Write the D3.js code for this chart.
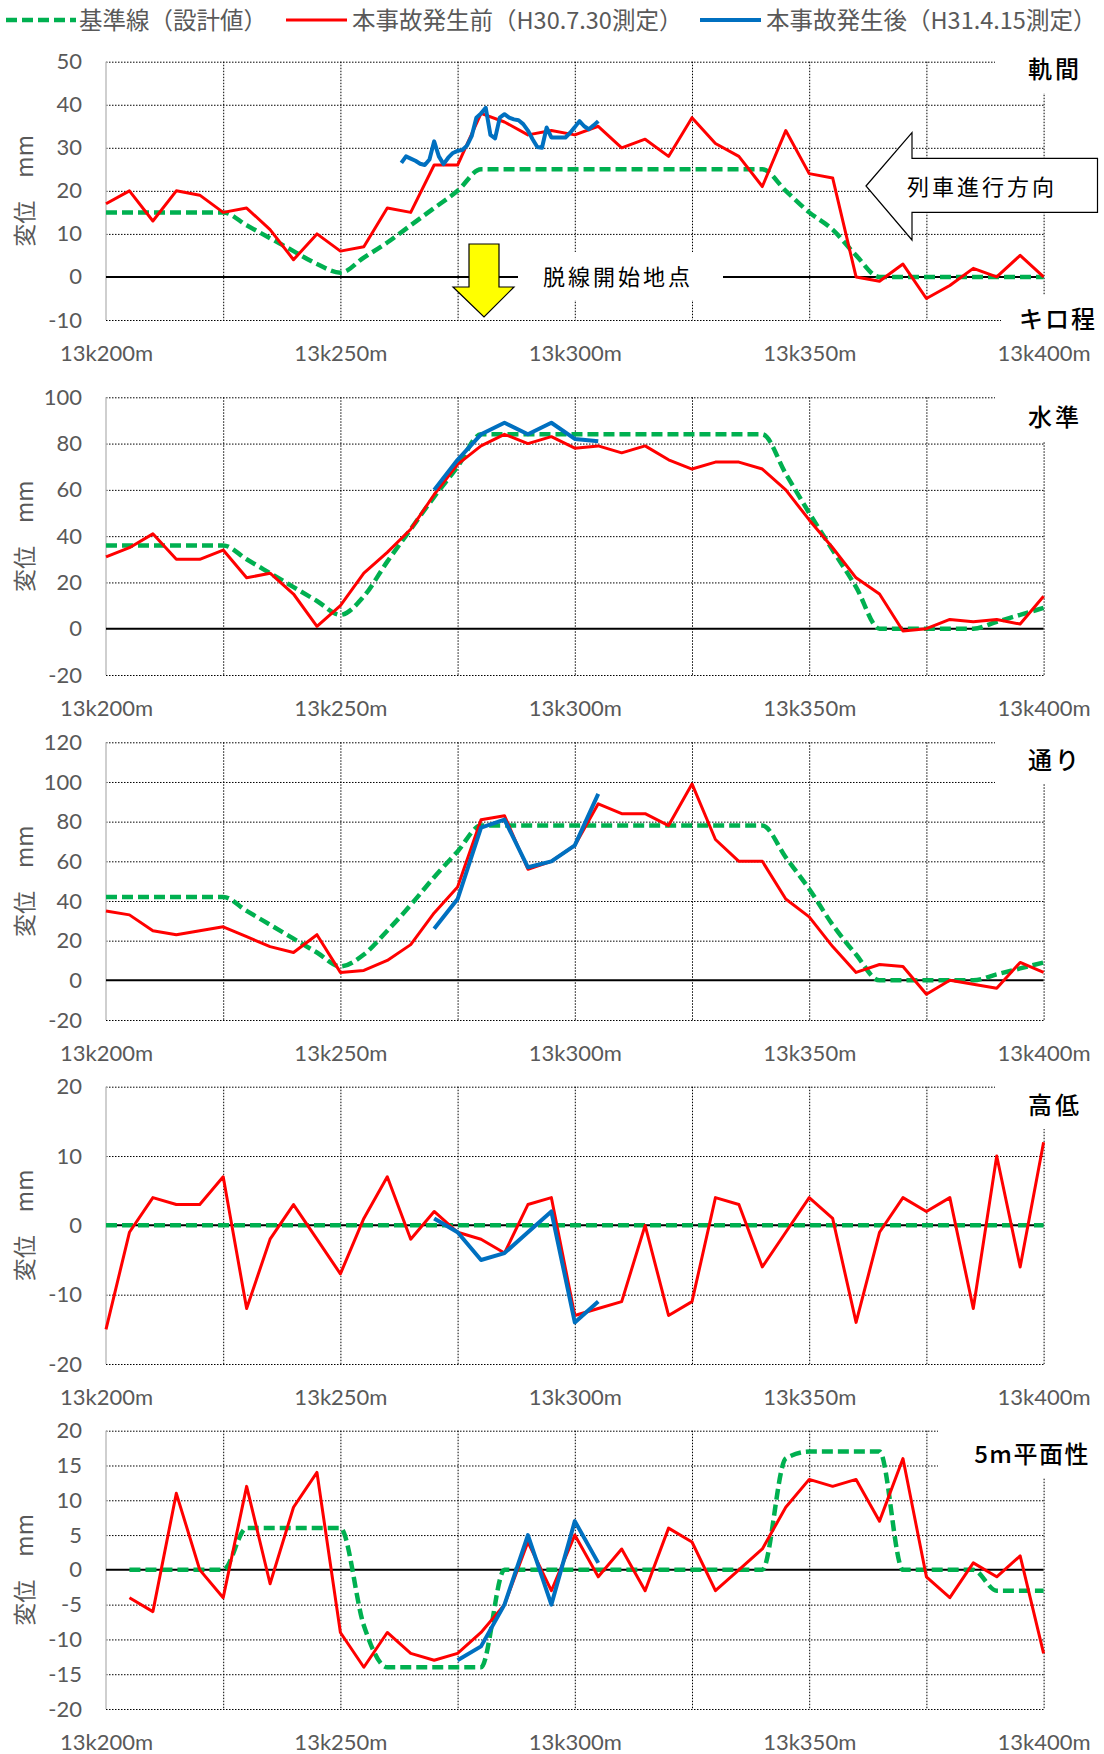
<!DOCTYPE html>
<html>
<head>
<meta charset="utf-8">
<script src="https://cdn.jsdelivr.net/npm/d3@7"></script>
<style>
  body { margin: 0; background: #fff; }
  svg { display: block; }
</style>
</head>
<body>
<svg id="chart" width="1104" height="1754"></svg>
<script>
// キロ程 (13k + m)
const KM = d3.range(200, 401, 5);
const KM_TWIST = d3.range(205, 401, 5);
const KM_AFTER = [270, 275, 280, 285, 290, 295, 300, 305];
const KM_AFTER_GAUGE = d3.range(263, 306);   // 1m pitch
const KM_AFTER_TWIST = [275, 280, 285, 290, 295, 300, 305];
const X_TICKS = [200, 250, 300, 350, 400];
const X_GRID = [225, 250, 275, 300, 325, 350, 375, 400];

const SERIES_NAMES = ['基準線（設計値）', '本事故発生前（H30.7.30測定）', '本事故発生後（H31.4.15測定）'];
const TITLES = ['軌間', '水準', '通り', '高低', '5m平面性'];

// 軌間
const GAUGE_BASE = [15, 15, 15, 15, 15, 15, 12, 9, 6, 3, 1, 4.5, 8, 12, 16, 20,
  25, 25, 25, 25, 25, 25, 25, 25, 25, 25, 25, 25, 25, 20, 15, 11, 5, 0, 0, 0, 0, 0, 0, 0, 0];
const GAUGE_BEFORE = [17, 20, 13, 20, 19, 15, 16, 11, 4, 10, 6, 7, 16, 15, 26, 26,
  38, 36, 33, 34, 33, 35, 30, 32, 28, 37, 31, 28, 21, 34, 24, 23, 0, -1, 3, -5, -2, 2, 0, 5, 0];
const GAUGE_AFTER = [26.5, 28, 27.5, 27, 26.3, 26, 27.3, 31.5, 28, 26.2, 27.7, 28.8, 29.3, 29.5,
  30.5, 32.7, 37, 38, 39.3, 33, 32.2, 37, 37.8, 37, 36.6, 36.4, 35.5, 34, 32, 30.2, 30,
  34.7, 32.4, 32.4, 32.4, 32.4, 33.5, 34.8, 36.2, 35, 34.3, 35.2, 36.2];

// 水準
const CROSS_BASE = [36, 36, 36, 36, 36, 36, 30, 24, 18, 12, 6, 14, 29, 43, 57, 70,
  84, 84, 84, 84, 84, 84, 84, 84, 84, 84, 84, 84, 84, 67, 50, 34, 18, 0, 0, 0, 0, 0, 3, 6, 9];
const CROSS_BEFORE = [31, 35, 41, 30, 30, 34, 22, 24, 15, 1, 10, 24, 33, 43, 58, 71,
  79, 84, 80, 83, 78, 79, 76, 79, 73, 69, 72, 72, 69, 60, 47, 35, 22, 15, -1, 0, 4, 3, 4, 2, 14];
const CROSS_AFTER = [60, 73, 84, 89, 84, 89, 82, 81];

// 通り
const ALIGN_BASE = [42, 42, 42, 42, 42, 42, 35, 28, 21, 14, 7, 13, 25, 38, 52, 65,
  78, 78, 78, 78, 78, 78, 78, 78, 78, 78, 78, 78, 78, 62, 46, 28, 13, 0, 0, 0, 0, 0, 3, 6, 9];
const ALIGN_BEFORE = [35, 33, 25, 23, 25, 27, 22, 17, 14, 23, 4, 5, 10, 18, 34, 47,
  81, 83, 56, 60, 68, 89, 84, 84, 78, 99, 71, 60, 60, 41, 32, 17, 4, 8, 7, -7, 0, -2, -4, 9, 4];
const ALIGN_AFTER = [26, 41, 77, 81, 57, 60, 68, 94];

// 高低
const SURFACE_BASE = [0, 0, 0, 0, 0, 0, 0, 0, 0, 0, 0, 0, 0, 0, 0, 0, 0, 0, 0, 0, 0,
  0, 0, 0, 0, 0, 0, 0, 0, 0, 0, 0, 0, 0, 0, 0, 0, 0, 0, 0, 0];
const SURFACE_BEFORE = [-15, -1, 4, 3, 3, 7, -12, -2, 3, -2, -7, 1, 7, -2, 2, -1,
  -2, -4, 3, 4, -13, -12, -11, 0, -13, -11, 4, 3, -6, -1, 4, 1, -14, -1, 4, 2, 4, -12, 10, -6, 12];
const SURFACE_AFTER = [1, -1, -5, -4, -1, 2, -14, -11];

// 5m平面性
const TWIST_BASE = [0, 0, 0, 0, 0, 6, 6, 6, 6, 6, -8, -14, -14, -14, -14, -14,
  0, 0, 0, 0, 0, 0, 0, 0, 0, 0, 0, 0, 16, 17, 17, 17, 17, 0, 0, 0, 0, -3, -3, -3];
const TWIST_BEFORE = [-4, -6, 11, 0, -4, 12, -2, 9, 14, -9, -14, -9, -12, -13, -12, -9,
  -5, 4, -3, 5, -1, 3, -3, 6, 4, -3, 0, 3, 9, 13, 12, 13, 7, 16, -1, -4, 1, -1, 2, -12];
const TWIST_AFTER = [-13, -11, -5, 5, -5, 7, 1];

const COLORS = ['#00B050', '#FF0000', '#0070C0'];

const PANELS = [
  { domain: [-10, 50], step: 10, base: [KM, GAUGE_BASE], before: [KM, GAUGE_BEFORE], after: [KM_AFTER_GAUGE, GAUGE_AFTER] },
  { domain: [-20, 100], step: 20, base: [KM, CROSS_BASE], before: [KM, CROSS_BEFORE], after: [KM_AFTER, CROSS_AFTER] },
  { domain: [-20, 120], step: 20, base: [KM, ALIGN_BASE], before: [KM, ALIGN_BEFORE], after: [KM_AFTER, ALIGN_AFTER] },
  { domain: [-20, 20], step: 10, base: [KM, SURFACE_BASE], before: [KM, SURFACE_BEFORE], after: [KM_AFTER, SURFACE_AFTER] },
  { domain: [-20, 20], step: 5, base: [KM_TWIST, TWIST_BASE], before: [KM_TWIST, TWIST_BEFORE], after: [KM_AFTER_TWIST, TWIST_AFTER] }
];

// layout
const PANEL_TOP = [61.7, 397.3, 742.3, 1086.7, 1430.7];
const PANEL_BOTTOM = [320, 675, 1020, 1364, 1709];
const TITLE_Y = [69, 417, 760, 1105, 1454];
const JP = '"Noto Sans CJK JP", "Noto Sans", sans-serif';
const LAT = 'Lato, "Noto Sans", sans-serif';

const svg = d3.select('#chart');
const x = d3.scaleLinear().domain([200, 400]).range([106, 1043.6]);

function styleGrid(sel) {
  sel.select('.domain').remove();
  sel.selectAll('line').attr('stroke', '#000').attr('stroke-width', 1).attr('stroke-dasharray', '1.5,1.5');
}

PANELS.forEach((p, i) => {
  const top = PANEL_TOP[i], bottom = PANEL_BOTTOM[i];
  const y = d3.scaleLinear().domain(p.domain).range([bottom, top]);
  const yTicks = d3.range(p.domain[0], p.domain[1] + 0.001, p.step);
  const g = svg.append('g');

  // grid
  g.append('g').attr('transform', `translate(${x(200)},0)`)
    .call(d3.axisRight(y).tickValues(yTicks.filter(v => v !== 0)).tickSize(x(400) - x(200)).tickFormat(''))
    .call(styleGrid);
  g.append('g').attr('transform', `translate(0,${top})`)
    .call(d3.axisBottom(x).tickValues(X_GRID).tickSize(bottom - top).tickFormat(''))
    .call(styleGrid);

  // left axis and zero line
  g.append('line').attr('x1', x(200)).attr('x2', x(200)).attr('y1', top).attr('y2', bottom)
    .attr('stroke', '#BFBFBF').attr('stroke-width', 1.5);
  g.append('line').attr('x1', x(200)).attr('x2', x(400)).attr('y1', y(0)).attr('y2', y(0))
    .attr('stroke', '#000').attr('stroke-width', 2);

  // tick labels
  const ya = g.append('g').attr('transform', `translate(${x(200)},0)`)
    .call(d3.axisLeft(y).tickValues(yTicks).tickSize(0).tickPadding(24).tickFormat(d => String(d)));
  ya.select('.domain').remove();
  ya.selectAll('text').attr('font-family', LAT).attr('font-size', 22).attr('fill', '#595959');
  const xa = g.append('g').attr('transform', `translate(0,${bottom})`)
    .call(d3.axisBottom(x).tickValues(X_TICKS).tickSize(0).tickPadding(25).tickFormat(d => `13k${d}m`));
  xa.select('.domain').remove();
  xa.selectAll('text').attr('font-family', LAT).attr('font-size', 22).attr('fill', '#595959');

  // y title
  g.append('text')
    .attr('transform', `translate(33,${(top + bottom) / 2}) rotate(-90)`)
    .attr('text-anchor', 'middle')
    .attr('font-family', JP).attr('font-size', 23).attr('fill', '#595959')
    .text('変位　mm');

  // panel title with white box
  const wide = i === 4;
  g.append('rect').attr('x', wide ? 938 : 995).attr('y', TITLE_Y[i] - 25)
    .attr('width', wide ? 166 : 109).attr('height', 49).attr('fill', '#fff');
  g.append('text').attr('x', wide ? 1090 : 1082).attr('y', TITLE_Y[i] + 9)
    .attr('text-anchor', 'end')
    .attr('font-family', JP).attr('font-size', 24).attr('font-weight', 500)
    .attr('letter-spacing', wide ? 1.5 : 3).attr('fill', '#000')
    .text(TITLES[i]);

  if (i === 0) {
    g.append('rect').attr('x', 1001).attr('y', 295).attr('width', 103).attr('height', 50).attr('fill', '#fff');
    g.append('text').attr('x', 1097).attr('y', 328).attr('text-anchor', 'end')
      .attr('font-family', JP).attr('font-size', 24).attr('font-weight', 500).attr('letter-spacing', 2).attr('fill', '#000')
      .text('キロ程');
    g.append('rect').attr('x', 518).attr('y', 252).attr('width', 205).attr('height', 48).attr('fill', '#fff');
    g.append('text').attr('x', 543).attr('y', 285)
      .attr('font-family', JP).attr('font-size', 22).attr('letter-spacing', 3).attr('fill', '#000')
      .text('脱線開始地点');
  }

  // series
  const line = d3.line().x(d => x(d[0])).y(d => y(d[1]));
  g.append('path').datum(d3.zip(p.base[0], p.base[1]))
    .attr('d', line.curve(d3.curveMonotoneX)).attr('fill', 'none')
    .attr('stroke', COLORS[0]).attr('stroke-width', 4.5).attr('stroke-dasharray', '11,5');
  line.curve(d3.curveLinear);
  g.append('path').datum(d3.zip(p.before[0], p.before[1]))
    .attr('d', line).attr('fill', 'none')
    .attr('stroke', COLORS[1]).attr('stroke-width', 3).attr('stroke-linejoin', 'round');
  g.append('path').datum(d3.zip(p.after[0], p.after[1]))
    .attr('d', line).attr('fill', 'none')
    .attr('stroke', COLORS[2]).attr('stroke-width', 4).attr('stroke-linejoin', 'round');
});

// 脱線開始地点 arrow
svg.append('path')
  .attr('d', 'M469,244 L499,244 L499,287 L514,287 L484,317 L453,287 L469,287 Z')
  .attr('fill', '#FFFF00').attr('stroke', '#000').attr('stroke-width', 1.2);

// 列車進行方向 arrow
svg.append('path')
  .attr('d', 'M866,186 L912,132.7 L912,158.3 L1097.5,158.3 L1097.5,212.3 L912,212.3 L912,240 Z')
  .attr('fill', '#fff').attr('stroke', '#000').attr('stroke-width', 1.2);
svg.append('text').attr('x', 907).attr('y', 195)
  .attr('font-family', JP).attr('font-size', 22).attr('letter-spacing', 3).attr('fill', '#000')
  .text('列車進行方向');

// legend
const LEGEND_X = [[6, 76, 79], [286, 347, 352], [700, 761, 766]];
const legend = svg.append('g');
SERIES_NAMES.forEach((name, i) => {
  const [x0, x1, tx] = LEGEND_X[i];
  const l = legend.append('line').attr('x1', x0).attr('x2', x1).attr('y1', 20).attr('y2', 20)
    .attr('stroke', COLORS[i]).attr('stroke-width', i === 0 ? 4.5 : (i === 1 ? 3 : 4));
  if (i === 0) l.attr('stroke-dasharray', '11,5');
  legend.append('text').attr('x', tx).attr('y', 29)
    .attr('font-family', JP).attr('font-size', 23.5).attr('fill', '#595959')
    .text(name);
});
</script>
</body>
</html>
